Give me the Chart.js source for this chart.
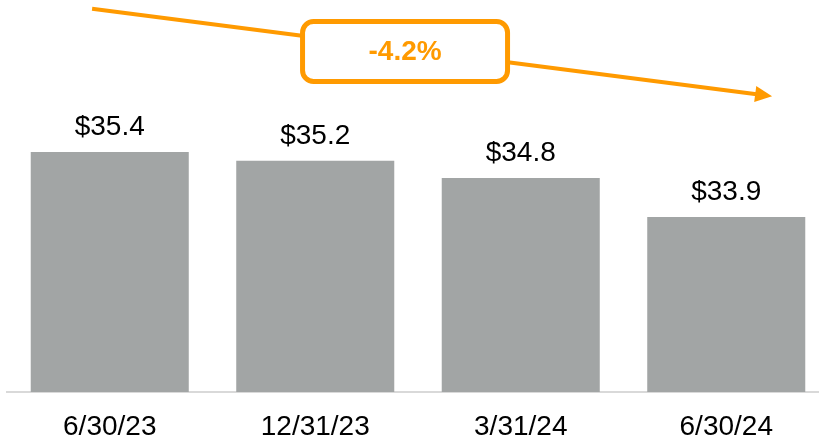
<!DOCTYPE html>
<html>
<head>
<meta charset="utf-8">
<script src="https://cdn.jsdelivr.net/npm/chart.js@4/dist/chart.umd.min.js"></script>
<style>
  html, body { margin: 0; padding: 0; background: #fff; overflow: hidden; }
  /* a bit wider/taller than the window; the axis box is taller than its labels */
  #wrap { width: 830px; height: 462px; position: relative; }
</style>
</head>
<body>
<div id="wrap"><canvas id="chart"></canvas></div>
<script>
// chart data
const periods = ["6/30/23", "12/31/23", "3/31/24", "6/30/24"];
const balances = [35.4, 35.2, 34.8, 33.9];
const valueLabels = ["$35.4", "$35.2", "$34.8", "$33.9"];
const changeLabel = "-4.2%";

const GRAY = "#a2a5a5";
const ORANGE = "#ff9a00";
const FONT = "'Liberation Sans', Arial, sans-serif";

// value labels over the bars
const barLabels = {
  id: "barLabels",
  afterDatasetsDraw(chart) {
    const ctx = chart.ctx;
    const meta = chart.getDatasetMeta(0);
    ctx.save();
    ctx.font = "28px " + FONT;
    ctx.fillStyle = "#000";
    ctx.textAlign = "center";
    ctx.textBaseline = "alphabetic";
    meta.data.forEach((bar, i) => {
      ctx.fillText(valueLabels[i], bar.x, bar.y - 17);
    });
    ctx.restore();
  }
};

// trend arrow + callout box, placed in scale units
const trendArrow = {
  id: "trendArrow",
  afterDraw(chart) {
    const ctx = chart.ctx;
    const x = chart.scales.x, y = chart.scales.y;
    const x0 = x.getPixelForValue(-0.086), y0 = y.getPixelForValue(38.71);
    const x1 = x.getPixelForValue(3.223), y1 = y.getPixelForValue(36.69);
    const ang = Math.atan2(y1 - y0, x1 - x0);
    const head = 17;

    ctx.save();
    ctx.strokeStyle = ORANGE;
    ctx.fillStyle = ORANGE;
    ctx.lineWidth = 4;
    ctx.beginPath();
    ctx.moveTo(x0, y0);
    ctx.lineTo(x1 - head * 0.8 * Math.cos(ang), y1 - head * 0.8 * Math.sin(ang));
    ctx.stroke();

    ctx.beginPath();
    ctx.moveTo(x1, y1);
    ctx.lineTo(x1 - head * Math.cos(ang) + 8 * Math.sin(ang), y1 - head * Math.sin(ang) - 8 * Math.cos(ang));
    ctx.lineTo(x1 - head * Math.cos(ang) - 8 * Math.sin(ang), y1 - head * Math.sin(ang) + 8 * Math.cos(ang));
    ctx.closePath();
    ctx.fill();

    // callout box
    const cx = x.getPixelForValue(1.437);
    const cy = y.getPixelForValue(37.72);
    const w = 205, h = 60;
    ctx.beginPath();
    ctx.roundRect(cx - w / 2, cy - h / 2, w, h, 11);
    ctx.fillStyle = "#fff";
    ctx.fill();
    ctx.lineWidth = 5;
    ctx.strokeStyle = ORANGE;
    ctx.stroke();

    ctx.fillStyle = ORANGE;
    ctx.font = "bold 28px " + FONT;
    ctx.textAlign = "center";
    ctx.textBaseline = "middle";
    ctx.fillText(changeLabel, cx, cy + 1);
    ctx.restore();
  }
};

new Chart(document.getElementById("chart"), {
  type: "bar",
  data: {
    labels: periods,
    datasets: [{
      data: balances,
      backgroundColor: GRAY,
      borderWidth: 0,
      categoryPercentage: 1,
      barPercentage: 0.769
    }]
  },
  options: {
    responsive: true,
    maintainAspectRatio: false,
    animation: false,
    layout: { padding: { left: 7, right: 1, top: 0, bottom: 0 } },
    plugins: {
      legend: { display: false },
      tooltip: { enabled: false }
    },
    scales: {
      x: {
        grid: { display: false, drawTicks: false },
        border: { display: true, color: "#d9d9d9", width: 2 },
        ticks: {
          color: "#000",
          padding: 21,
          font: { family: FONT, size: 28, lineHeight: 1.0 }
        }
      },
      y: {
        display: false,
        min: 29.86,
        max: 38.91
      }
    }
  },
  plugins: [barLabels, trendArrow]
});
</script>
</body>
</html>
